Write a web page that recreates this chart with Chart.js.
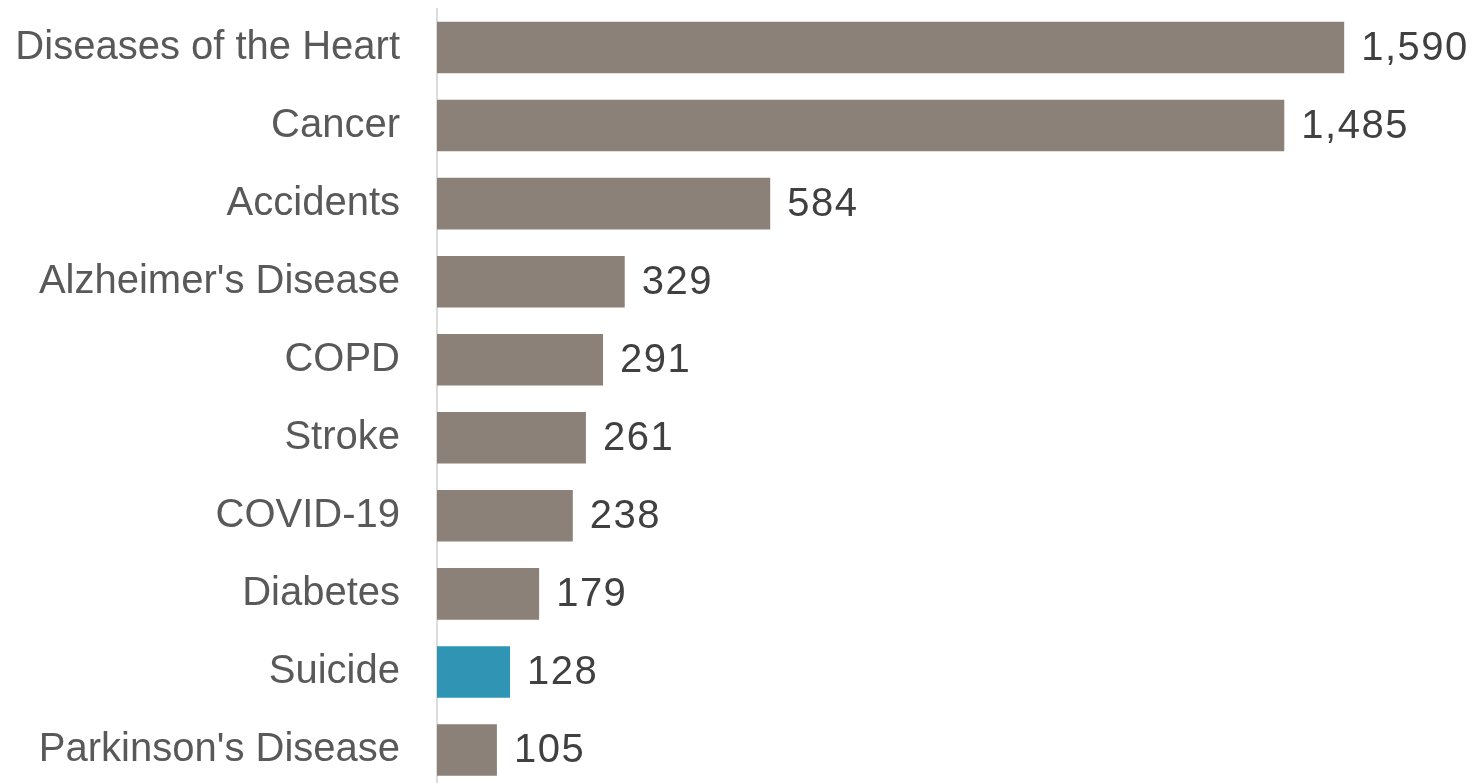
<!DOCTYPE html>
<html>
<head>
<meta charset="utf-8">
<script src="https://cdn.jsdelivr.net/npm/chart.js@4/dist/chart.umd.min.js"></script>
<style>
  html, body { margin: 0; padding: 0; background: #fff; overflow: hidden; }
  #wrap { width: 1478px; height: 790px; }
</style>
</head>
<body>
<div id="wrap"><canvas id="c" width="1478" height="790"></canvas></div>
<script>
// Leading causes of death (deaths, thousands)
const causes = [
  "Diseases of the Heart", "Cancer", "Accidents", "Alzheimer's Disease", "COPD",
  "Stroke", "COVID-19", "Diabetes", "Suicide", "Parkinson's Disease"
];
const deaths = [1590, 1485, 584, 329, 291, 261, 238, 179, 128, 105];
const highlighted = ["Suicide"];

const GRAY = "#8b8178";
const TEAL = "#3094b5";
const FONT = "'Liberation Sans', Arial, sans-serif";

// Value labels drawn just past the end of each bar
const valueLabels = {
  id: "valueLabels",
  afterDatasetsDraw(chart) {
    const ctx = chart.ctx;
    const meta = chart.getDatasetMeta(0);
    ctx.save();
    ctx.font = "40px " + FONT;
    ctx.letterSpacing = "1.5px";
    ctx.fillStyle = "#404040";
    ctx.textAlign = "left";
    ctx.textBaseline = "middle";
    meta.data.forEach((bar, i) => {
      ctx.fillText(deaths[i].toLocaleString("en-US"), bar.x + 17, bar.y + 1);
    });
    ctx.restore();
  }
};

new Chart(document.getElementById("c"), {
  type: "bar",
  data: {
    labels: causes,
    datasets: [{
      data: deaths,
      backgroundColor: causes.map(c => highlighted.includes(c) ? TEAL : GRAY),
      borderWidth: 0,
      barPercentage: 0.66,
      categoryPercentage: 1
    }]
  },
  options: {
    indexAxis: "y",
    responsive: false,
    animation: false,
    layout: { padding: { top: 8.5, bottom: 1, right: 14, left: 0 } },
    plugins: { legend: { display: false }, tooltip: { enabled: false } },
    scales: {
      x: { display: false, min: 0, max: 1800 },
      y: {
        afterFit(scale) {
          scale.width = 437;
          scale.paddingTop = 0;
          scale.paddingBottom = 0;
        },
        grid: { display: false, drawTicks: false },
        border: { display: true, color: "#dcdcdc", width: 2 },
        ticks: {
          padding: 37,
          color: "#595959",
          font: { family: FONT, size: 40 }
        }
      }
    }
  },
  plugins: [valueLabels]
});
</script>
</body>
</html>
